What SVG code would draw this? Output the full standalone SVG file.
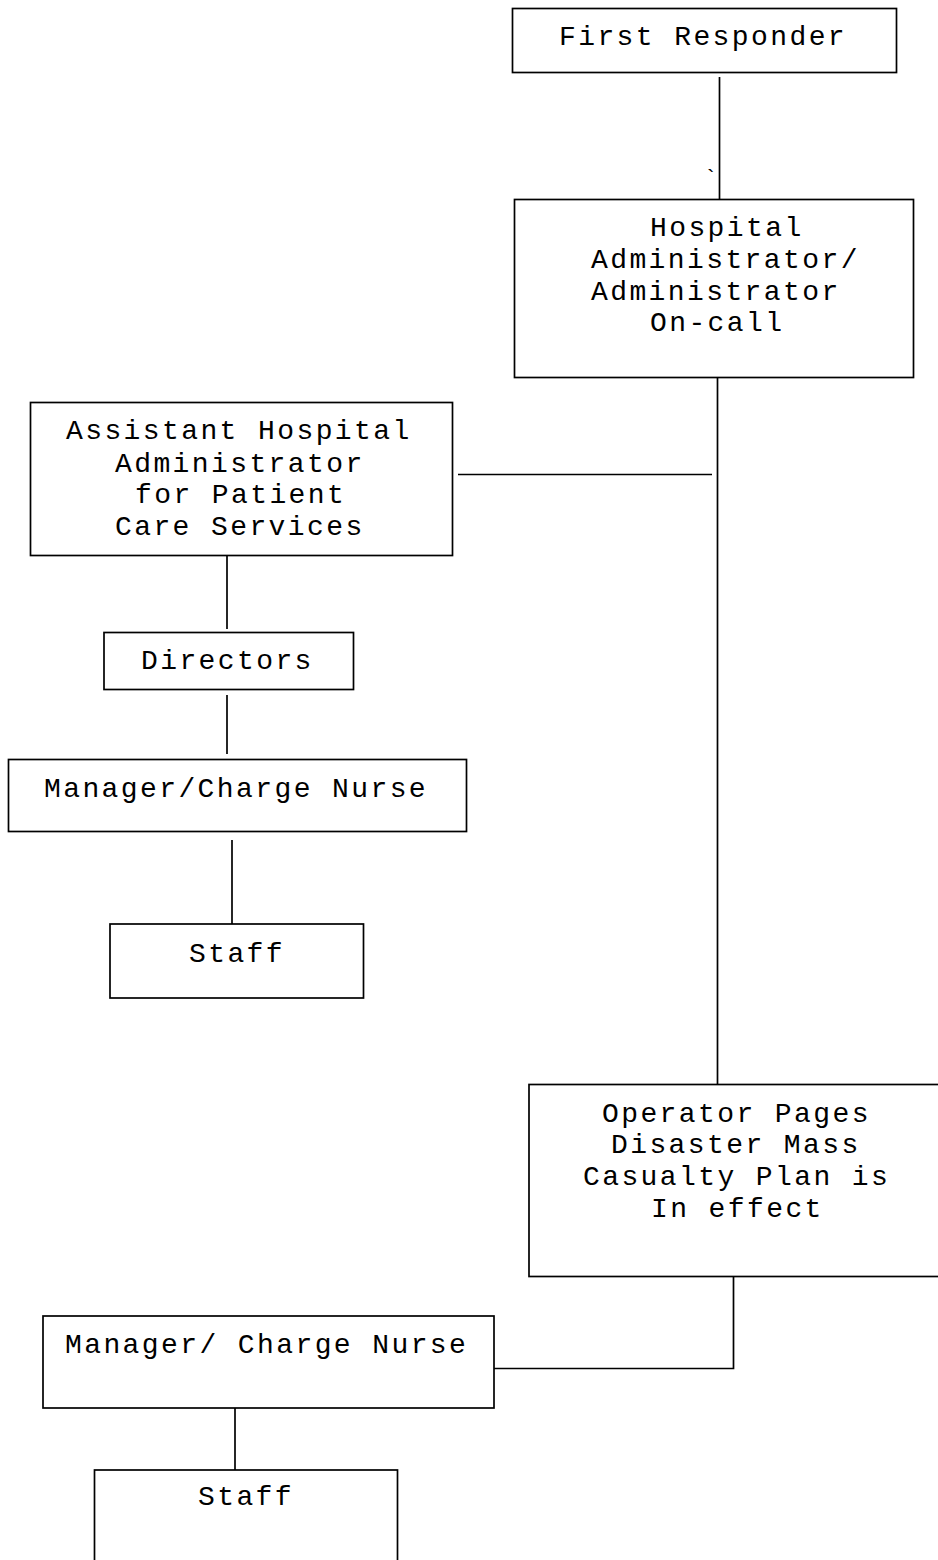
<svg xmlns="http://www.w3.org/2000/svg" width="938" height="1560" viewBox="0 0 938 1560">
<style>
.box{fill:#fff;stroke:#000;stroke-width:1.7}
.ln{fill:none;stroke:#000;stroke-width:1.7}
text{font-family:"Liberation Mono","Courier New",monospace;font-size:28px;letter-spacing:2.4px;fill:#000}
</style>
<rect width="938" height="1560" fill="#fff"/>
<g id="connectors">
<line class="ln" x1="719.5" y1="77" x2="719.5" y2="199"/>
<line class="ln" x1="717.5" y1="369" x2="717.5" y2="1108"/>
<line class="ln" x1="458" y1="474.5" x2="712" y2="474.5"/>
<line class="ln" x1="227" y1="556" x2="227" y2="629"/>
<line class="ln" x1="227" y1="695" x2="227" y2="754"/>
<line class="ln" x1="232" y1="840" x2="232" y2="928"/>
<polyline class="ln" points="733.5,1277 733.5,1368.5 494,1368.5"/>
<line class="ln" x1="235" y1="1408" x2="235" y2="1482"/>
</g>
<text x="704" y="185" style="font-size:22px">`</text>
<g id="first-responder">
<rect class="box" x="512.5" y="8.5" width="384" height="64"/>
<text x="559" y="45">First Responder</text>
</g>
<g id="hospital-administrator">
<rect class="box" x="514.5" y="199.5" width="399" height="178"/>
<text x="650" y="236">Hospital</text>
<text x="591" y="268">Administrator/</text>
<text x="591" y="300">Administrator</text>
<text x="650" y="331">On-call</text>
</g>
<g id="assistant-administrator">
<rect class="box" x="30.5" y="402.5" width="422" height="153"/>
<text x="66" y="439">Assistant Hospital</text>
<text x="115" y="472">Administrator</text>
<text x="135" y="503">for Patient</text>
<text x="115" y="535">Care Services</text>
</g>
<g id="directors">
<rect class="box" x="104" y="632.5" width="249.5" height="57"/>
<text x="141" y="669">Directors</text>
</g>
<g id="manager-1">
<rect class="box" x="8.5" y="759.5" width="458" height="72"/>
<text x="44" y="797">Manager/Charge Nurse</text>
</g>
<g id="staff-1">
<rect class="box" x="110" y="924" width="253.5" height="74"/>
<text x="189" y="962">Staff</text>
</g>
<g id="operator">
<rect class="box" x="529" y="1084.5" width="420" height="192"/>
<text x="602" y="1122">Operator Pages</text>
<text x="611" y="1153">Disaster Mass</text>
<text x="583" y="1185">Casualty Plan is</text>
<text x="651" y="1217">In effect</text>
</g>
<g id="manager-2">
<rect class="box" x="43" y="1316" width="451" height="92"/>
<text x="65" y="1353">Manager/ Charge Nurse</text>
</g>
<g id="staff-2">
<rect class="box" x="94.5" y="1470" width="303" height="110"/>
<text x="198" y="1505">Staff</text>
</g>
</svg>
